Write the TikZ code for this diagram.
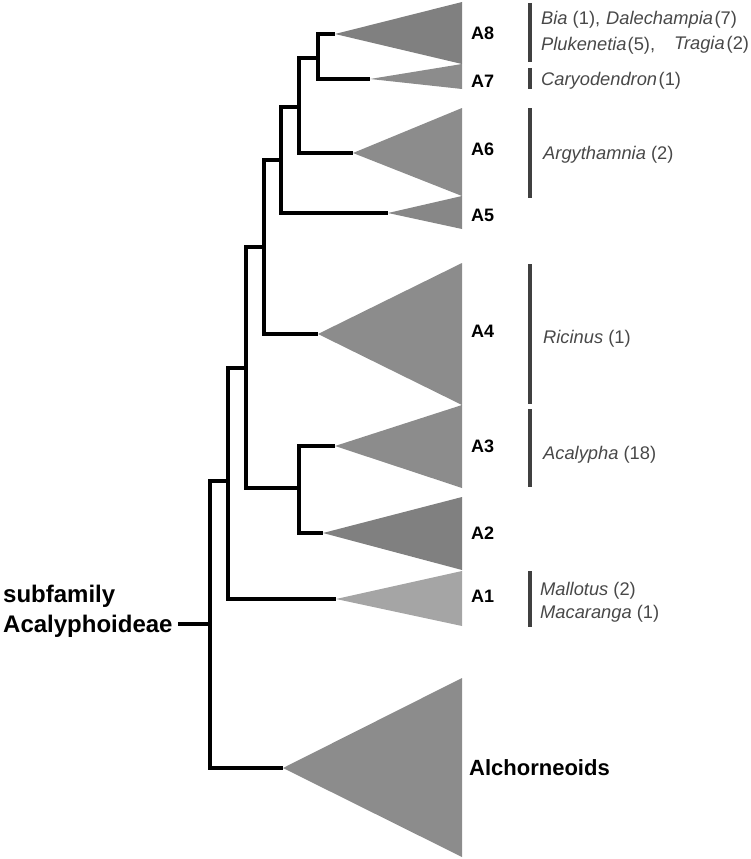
\documentclass[tikz,border=0pt]{standalone}
\usepackage{fontspec}
\setmainfont{Liberation Sans}
\definecolor{tri}{RGB}{140,140,140}
\definecolor{triA}{RGB}{135,135,135}
\definecolor{triB}{RGB}{128,128,128}
\definecolor{triC}{RGB}{165,165,165}
\definecolor{barcol}{RGB}{64,64,64}
\definecolor{txtcol}{RGB}{72,72,72}
\begin{document}
\begin{tikzpicture}[x=1pt,y=-1pt,
  branch/.style={line width=3.2pt, black, line join=miter},
  clade/.style={draw=none},
  barline/.style={line width=4.8pt, barcol},
  lab/.style={font=\fontsize{18}{21}\selectfont\bfseries, anchor=west, inner sep=0pt},
  biglab/.style={font=\fontsize{22}{26}\selectfont\bfseries, anchor=base west, inner sep=0pt},
  sublab/.style={font=\fontsize{24}{28}\selectfont\bfseries, anchor=base west, inner sep=0pt},
  taxon/.style={font=\fontsize{18.3}{22}\selectfont, text=txtcol, anchor=base west, inner sep=0pt}]
\useasboundingbox (0,0) rectangle (750,859);

% clade apexes
\coordinate (a8) at (335,34);
\coordinate (a7) at (370,79);
\coordinate (a6) at (353,153);
\coordinate (a5) at (388,213);
\coordinate (a4) at (318,334);
\coordinate (a3) at (335,446);
\coordinate (a2) at (323,533);
\coordinate (a1) at (336,599);
\coordinate (alch) at (283,768);

% internal nodes
\coordinate (n87) at (318,58);
\coordinate (n86) at (299,107);
\coordinate (n85) at (281,160);
\coordinate (n84) at (264,247);
\coordinate (n23) at (299,488);
\coordinate (n24) at (246,368);
\coordinate (n14) at (228,481);
\coordinate (root) at (210,624);
\coordinate (stem) at (178,624);

% triangles
\fill[clade, triB] (a8) -- (462,2) -- (462,64) -- cycle;
\fill[clade, tri] (a7) -- (462,64) -- (462,89) -- cycle;
\fill[clade, tri] (a6) -- (462,108) -- (462,196) -- cycle;
\fill[clade, triA] (a5) -- (462,196) -- (462,229) -- cycle;
\fill[clade, tri] (a4) -- (462,263) -- (462,405) -- cycle;
\fill[clade, tri] (a3) -- (462,405) -- (462,488) -- cycle;
\fill[clade, triB] (a2) -- (462,497) -- (462,570) -- cycle;
\fill[clade, triC] (a1) -- (462,571) -- (462,626) -- cycle;
\fill[clade, tri] (alch) -- (462,678) -- (462,857) -- cycle;

% branches
\draw[branch] (a8) -| (n87) |- (a7);
\draw[branch] (n87) -| (n86) |- (a6);
\draw[branch] (n86) -| (n85) |- (a5);
\draw[branch] (n85) -| (n84) |- (a4);
\draw[branch] (a3) -| (n23) |- (a2);
\draw[branch] (n84) -| (n24) |- (n23);
\draw[branch] (n24) -| (n14) |- (a1);
\draw[branch] (n14) -| (root) |- (alch);
\draw[branch] (stem) -- (root);

% clade labels
\node[lab] (l8) at (471,33) {A8};
\node[lab] (l7) at (471,81) {A7};
\node[lab] (l6) at (471,149) {A6};
\node[lab] (l5) at (471,215) {A5};
\node[lab] (l4) at (471,331) {A4};
\node[lab] (l3) at (471,446) {A3};
\node[lab] (l2) at (471,533) {A2};
\node[lab] (l1) at (471,596) {A1};
\node[biglab] (lalch) at (469,775) {Alchorneoids};
\node[sublab] (sub1) at (3,602) {subfamily};
\node[sublab] (sub2) at (3,632) {Acalyphoideae};

% bars
\draw[barline] (530,3) -- (530,62);
\draw[barline] (530,68) -- (530,89);
\draw[barline] (530,108) -- (530,198);
\draw[barline] (530,264) -- (530,404);
\draw[barline] (530,409) -- (530,487);
\draw[barline] (530,571) -- (530,627);

% taxa
\node[taxon] (t1a) at (541,25) {\textit{Bia} (1),};
\node[taxon] (t1b) at (606,25) {\textit{Dalechampia}\hspace{1.5pt}(7)};
\node[taxon] (t2a) at (541,51) {\textit{Plukenetia}\hspace{1pt}(5),};
\node[taxon] (t2b) at (674,49) {\textit{Tragia}\hspace{2pt}(2)};
\node[taxon] (t3) at (541,85) {\textit{Caryodendron}\hspace{1.5pt}(1)};
\node[taxon] (t4) at (543,159) {\textit{Argythamnia} (2)};
\node[taxon] (t5) at (543,343) {\textit{Ricinus} (1)};
\node[taxon] (t6) at (543,459) {\textit{Acalypha} (18)};
\node[taxon] (t7) at (540,595) {\textit{Mallotus} (2)};
\node[taxon] (t8) at (540,618) {\textit{Macaranga} (1)};
\end{tikzpicture}
\end{document}
